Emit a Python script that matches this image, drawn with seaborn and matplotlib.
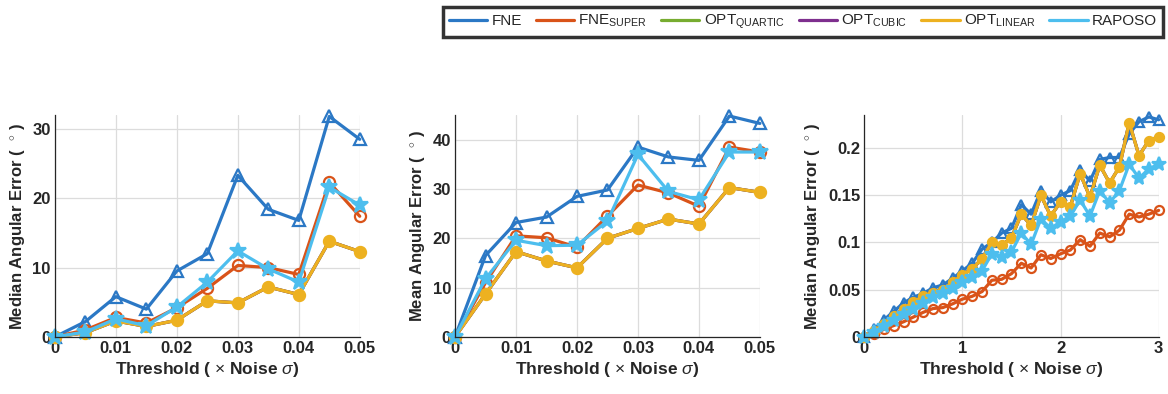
import numpy as np
import pandas as pd
import seaborn as sns
import matplotlib.pyplot as plt
from matplotlib.lines import Line2D

# data
thr_small = [0, 0.005, 0.01, 0.015, 0.02, 0.025, 0.03, 0.035, 0.04, 0.045, 0.05]
thr_large = [0, 0.1, 0.2, 0.3, 0.4, 0.5, 0.6, 0.7, 0.8, 0.9, 1.0, 1.1, 1.2, 1.3, 1.4, 1.5,
             1.6, 1.7, 1.8, 1.9, 2.0, 2.1, 2.2, 2.3, 2.4, 2.5, 2.6, 2.7, 2.8, 2.9, 3.0]

# panel 1: median angular error
med_fne = [0, 2.2, 5.8, 4.0, 9.5, 12.0, 23.3, 18.4, 16.8, 31.8, 28.5]
med_fne_super = [0, 1.0, 2.8, 2.0, 4.2, 7.0, 10.3, 10.0, 9.0, 22.3, 17.4]
med_opt_quartic = [0, 0.6, 2.3, 1.5, 2.4, 5.2, 4.9, 7.2, 6.1, 13.8, 12.3]
med_opt_cubic = [0, 0.6, 2.3, 1.5, 2.4, 5.2, 4.9, 7.2, 6.1, 13.8, 12.3]
med_opt_linear = [0, 0.6, 2.3, 1.5, 2.4, 5.2, 4.9, 7.2, 6.1, 13.8, 12.3]
med_raposo = [0, 0.7, 2.6, 1.6, 4.3, 7.9, 12.4, 9.8, 7.9, 21.6, 19.0]

# panel 2: mean angular error
mean_fne = [0, 16.5, 23.2, 24.3, 28.5, 29.8, 38.5, 36.5, 35.8, 44.8, 43.3]
mean_fne_super = [0, 11.0, 20.5, 20.1, 18.2, 24.5, 30.8, 29.2, 26.5, 38.5, 37.5]
mean_opt_quartic = [0, 8.7, 17.3, 15.4, 14.0, 20.0, 22.0, 23.9, 22.9, 30.3, 29.3]
mean_opt_cubic = [0, 8.7, 17.3, 15.4, 14.0, 20.0, 22.0, 23.9, 22.9, 30.3, 29.3]
mean_opt_linear = [0, 8.7, 17.3, 15.4, 14.0, 20.0, 22.0, 23.9, 22.9, 30.3, 29.3]
mean_raposo = [0, 11.8, 19.6, 18.5, 18.6, 23.5, 37.0, 29.5, 27.8, 37.5, 37.5]

# panel 3: median angular error, large thresholds
big_fne = [0, 0.008, 0.018, 0.027, 0.036, 0.042, 0.046, 0.052, 0.055, 0.062, 0.070,
           0.078, 0.093, 0.100, 0.110, 0.115, 0.140, 0.130, 0.155, 0.143, 0.150,
           0.155, 0.177, 0.165, 0.188, 0.190, 0.190, 0.215, 0.228, 0.233, 0.230]
big_fne_super = [0, 0.003, 0.008, 0.012, 0.016, 0.021, 0.026, 0.030, 0.031, 0.035, 0.040,
                 0.043, 0.048, 0.060, 0.061, 0.067, 0.078, 0.073, 0.087, 0.083, 0.088,
                 0.092, 0.103, 0.096, 0.110, 0.106, 0.113, 0.130, 0.127, 0.130, 0.134]
big_opt_quartic = [0, 0.006, 0.014, 0.022, 0.030, 0.037, 0.043, 0.047, 0.050, 0.058, 0.066,
                   0.072, 0.083, 0.100, 0.097, 0.105, 0.130, 0.118, 0.150, 0.128, 0.143,
                   0.138, 0.173, 0.148, 0.182, 0.163, 0.180, 0.227, 0.192, 0.208, 0.212]
big_opt_cubic = list(big_opt_quartic)
big_opt_linear = list(big_opt_quartic)
big_raposo = [0, 0.005, 0.012, 0.018, 0.024, 0.030, 0.036, 0.042, 0.047, 0.052, 0.058,
              0.063, 0.070, 0.088, 0.085, 0.090, 0.110, 0.098, 0.125, 0.115, 0.122,
              0.128, 0.145, 0.128, 0.155, 0.142, 0.155, 0.183, 0.168, 0.178, 0.183]

names = ['FNE', r'FNE$_{\mathregular{SUPER}}$', r'OPT$_{\mathregular{QUARTIC}}$',
         r'OPT$_{\mathregular{CUBIC}}$', r'OPT$_{\mathregular{LINEAR}}$', 'RAPOSO']
colors = ['#2b78c5', '#D95319', '#77AC30', '#7E2F8E', '#EDB120', '#4DBEEE']
markers = ['^', 'o', '+', '.', 'o', '*']
filled = [False, False, True, True, True, True]

panels = [
    (thr_small, [med_fne, med_fne_super, med_opt_quartic, med_opt_cubic, med_opt_linear, med_raposo],
     'Median Angular Error (  $^{\\circ}$ )', 32, [0, 10, 20, 30], [0, 0.01, 0.02, 0.03, 0.04, 0.05], 0.05, 8),
    (thr_small, [mean_fne, mean_fne_super, mean_opt_quartic, mean_opt_cubic, mean_opt_linear, mean_raposo],
     'Mean Angular Error (  $^{\\circ}$ )', 45, [0, 10, 20, 30, 40], [0, 0.01, 0.02, 0.03, 0.04, 0.05], 0.05, 8),
    (thr_large, [big_fne, big_fne_super, big_opt_quartic, big_opt_cubic, big_opt_linear, big_raposo],
     'Median Angular Error (  $^{\\circ}$ )', 0.235, [0, 0.05, 0.1, 0.15, 0.2], [0, 1, 2, 3], 3, 6.5),
]

sns.set_theme(style='whitegrid')
plt.rcParams['font.family'] = ['Liberation Sans', 'DejaVu Sans']
plt.rcParams['mathtext.fontset'] = 'custom'
plt.rcParams['mathtext.rm'] = 'Liberation Sans'
plt.rcParams['mathtext.it'] = 'Liberation Sans:italic'
plt.rcParams['mathtext.bf'] = 'Liberation Sans:bold'

fig = plt.figure(figsize=(11.68, 3.94), dpi=100)
lefts = [0.047, 0.3896, 0.740]
for i, (x, series, ylab, ymax, yt, xt, xmax, ms) in enumerate(panels):
    ax = fig.add_axes([lefts[i], 0.145, 0.261 if i < 2 else 0.252, 0.563])
    for j, y in enumerate(series):
        sns.lineplot(x=x, y=y, ax=ax, color=colors[j], marker=markers[j],
                     markersize=ms + (4 if markers[j] == '*' else 0),
                     markerfacecolor=colors[j] if filled[j] else 'none', markeredgecolor=colors[j],
                     markeredgewidth=1.6, linewidth=2.3, label=names[j], legend=False, clip_on=False)
    ax.set_xlim(0, xmax)
    ax.set_ylim(0, ymax)
    ax.set_xticks(xt)
    ax.set_xticklabels([f'{v:g}' for v in xt])
    ax.set_yticks(yt)
    ax.set_yticklabels([f'{v:g}' for v in yt])
    ax.set_xlabel(r'Threshold ( $\times$ Noise $\sigma$)', fontsize=12.5, fontweight='bold',
                  color='#262626', labelpad=3)
    ax.set_ylabel(ylab, fontsize=12, fontweight='bold', color='#262626', labelpad=4)
    ax.tick_params(labelsize=12, colors='#262626', length=3, direction='in', pad=3)
    for lab in ax.get_xticklabels() + ax.get_yticklabels():
        lab.set_fontweight('bold')
    ax.grid(True, color='#dcdcdc', linewidth=0.9)
    ax.set_facecolor('white')
    for s in ['top', 'right']:
        ax.spines[s].set_visible(False)
    for s in ['left', 'bottom']:
        ax.spines[s].set_visible(True)
        ax.spines[s].set_color('#262626')
        ax.spines[s].set_linewidth(0.9)

handles = [Line2D([], [], color=c, linewidth=2.3) for c in colors]
leg = fig.legend(handles, names, ncol=6, loc='center', bbox_to_anchor=(0.6875, 0.944),
                 frameon=True, fancybox=False, handlelength=2.5,
                 handletextpad=0.3, columnspacing=0.9, borderpad=0.4,
                 prop={'family': ['Liberation Sans'], 'size': 11})
leg.get_frame().set_edgecolor('black')
leg.get_frame().set_linewidth(2.5)

fig.savefig('out.png', dpi=100, facecolor='white')
